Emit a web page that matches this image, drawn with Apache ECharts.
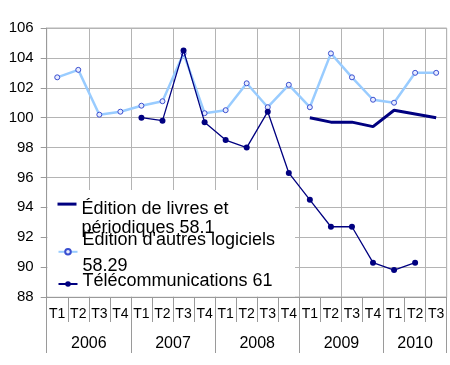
<!DOCTYPE html>
<html>
<head>
<meta charset="utf-8">
<script src="https://cdn.jsdelivr.net/npm/echarts@6/dist/echarts.min.js"></script>
<style>
html,body{margin:0;padding:0;background:#fff;}
#chart{width:450px;height:365px;}
</style>
</head>
<body>
<div id="chart"></div>
<script>
// ---- data ----
var quarters = ['T1','T2','T3','T4','T1','T2','T3','T4','T1','T2','T3','T4','T1','T2','T3','T4','T1','T2','T3'];
var years = ['2006','2007','2008','2009','2010'];
var quartersPerYear = [4, 4, 4, 4, 3];
var yTicks = [88, 90, 92, 94, 96, 98, 100, 102, 104, 106];
var seriesNames = ['Édition de livres et\npériodiques 58.1', "Édition d'autres logiciels\n58.29", 'Télécommunications 61'];
var livres = [null,null,null,null,null,null,null,null,null,null,null,null,100.0,99.7,99.7,99.4,100.5,100.25,100.0];
var logiciels = [102.7,103.2,100.2,100.4,100.8,101.1,104.3,100.3,100.5,102.3,100.7,102.2,100.7,104.3,102.7,101.2,101.0,103.0,103.0];
var telecom = [null,null,null,null,100.0,99.8,104.5,99.7,98.5,98.0,100.4,96.3,94.5,92.7,92.7,90.3,89.8,90.3,null];

// year axis built from years (half-quarter resolution so labels sit mid-year)
var yearAxisData = [];
var yearTickIdx = {};
var s = 0;
for (var i = 0; i <= quarters.length * 2; i++) yearAxisData.push('');
for (var k = 0; k < years.length; k++) {
  yearTickIdx[2 * s] = true;
  yearAxisData[2 * s + quartersPerYear[k]] = years[k];
  s += quartersPerYear[k];
}
yearTickIdx[2 * s] = true;

var FONT = 'Liberation Sans, Arial, sans-serif';
var GRIDC = '#b4b4b4';
var AXISC = '#9a9a9a';

// spacer lines (before / after) shift the text relative to the legend icon
function legendCfg(name, top, lh, before, after, icon, itemHeight) {
  var cfg = {
    orient: 'vertical', left: 57.5, top: top, padding: 0,
    itemWidth: 19, itemHeight: itemHeight, itemGap: 0,
    data: [name],
    formatter: function (n) {
      var body = '{t|' + n.split('\n').join('}\n{t|') + '}';
      if (before) body = '{a| }\n' + body;
      if (after) body = body + '\n{b| }';
      return body;
    },
    textStyle: {
      fontFamily: FONT, fontSize: 18, color: '#000',
      rich: {
        t: {fontFamily: FONT, fontSize: 18, color: '#000', lineHeight: lh},
        a: {fontSize: 1, lineHeight: before || 1},
        b: {fontSize: 1, lineHeight: after || 1}
      }
    }
  };
  if (icon) cfg.icon = icon;
  return cfg;
}

var chart = echarts.init(document.getElementById('chart'), null, {renderer: 'canvas'});
chart.setOption({
  animation: false,
  backgroundColor: '#fff',
  grid: {left: 46.7, right: 3.3, top: 28, bottom: 68, show: true, borderColor: GRIDC, borderWidth: 1},
  graphic: [{
    type: 'rect', z: 1,
    shape: {x: 47.5, y: 190, width: 247.5, height: 106.5},
    style: {fill: '#fff'}
  }],
  legend: [
    legendCfg(seriesNames[0], 184.2, 19.4, 28.4, 0, 'rect', 3),
    legendCfg(seriesNames[1], 225, 26.3, 2, 0, null, 7),
    legendCfg(seriesNames[2], 272, 20, 0, 6, null, 7)
  ],
  xAxis: [{
    type: 'category', data: quarters, boundaryGap: true, position: 'bottom',
    axisLine: {show: true, lineStyle: {color: AXISC, width: 1}},
    axisTick: {show: true, length: 25, interval: 0, lineStyle: {color: AXISC}},
    axisLabel: {interval: 0, margin: 10, fontFamily: FONT, fontSize: 14, lineHeight: 14, color: '#000'},
    splitLine: {show: true, interval: function (idx) { return idx % 2 === 0; }, lineStyle: {color: GRIDC, width: 1}}
  }, {
    type: 'category', data: yearAxisData, boundaryGap: false, position: 'bottom', offset: 0,
    axisLine: {show: false},
    axisTick: {show: true, length: 56, interval: function (idx) { return !!yearTickIdx[idx]; }, lineStyle: {color: AXISC}},
    axisLabel: {interval: 0, margin: 39, fontFamily: FONT, fontSize: 16, lineHeight: 16, color: '#000'},
    splitLine: {show: false}
  }],
  yAxis: {
    type: 'value', min: yTicks[0], max: yTicks[yTicks.length - 1], interval: 2,
    axisLine: {show: true, lineStyle: {color: AXISC}},
    axisTick: {show: true, length: 6, lineStyle: {color: AXISC}},
    axisLabel: {margin: 13, fontFamily: FONT, fontSize: 15, color: '#000'},
    splitLine: {show: true, lineStyle: {color: GRIDC, width: 1}}
  },
  series: [{
    name: seriesNames[0], type: 'line', data: livres, symbol: 'none',
    lineStyle: {color: '#000080', width: 3}, itemStyle: {color: '#000080'}, z: 3
  }, {
    name: seriesNames[1], type: 'line', data: logiciels, symbol: 'circle', symbolSize: 5,
    lineStyle: {color: '#99ccff', width: 2.5},
    itemStyle: {color: '#e8ecff', borderColor: '#3a4fd0', borderWidth: 1}, z: 3
  }, {
    name: seriesNames[2], type: 'line', data: telecom, symbol: 'circle', symbolSize: 6,
    lineStyle: {color: '#000080', width: 1.3}, itemStyle: {color: '#000080'}, z: 4
  }]
});
</script>
</body>
</html>
